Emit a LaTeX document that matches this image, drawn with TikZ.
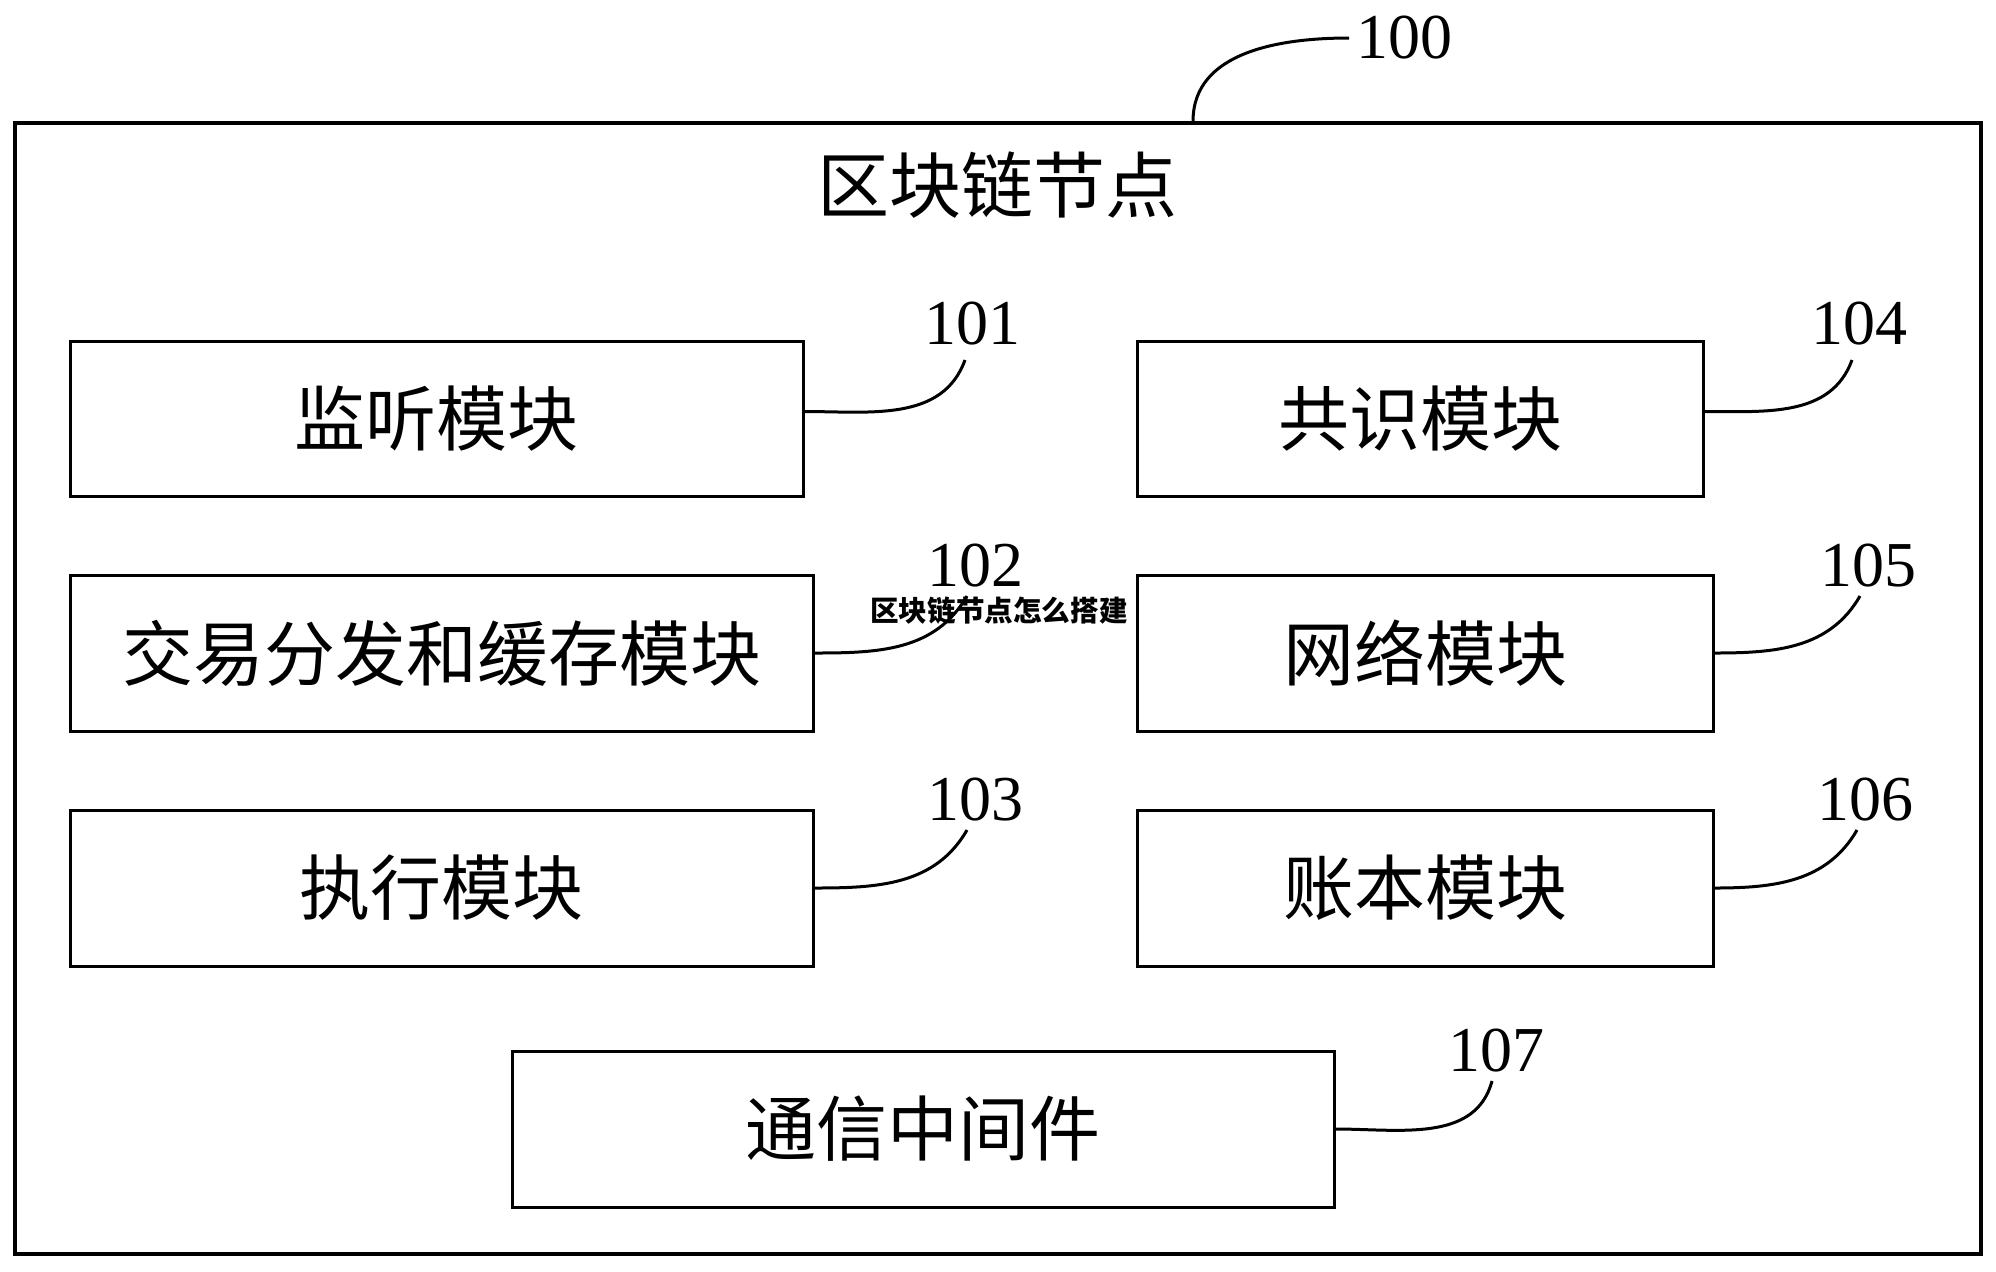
\documentclass[tikz,border=0pt]{standalone}
\usepackage{fontspec}
\setmainfont{Liberation Serif}
\newfontfamily\cjk{Noto Sans CJK SC}
\begin{document}
\begin{tikzpicture}[x=0.5pt,y=-0.5pt,
  box/.style={draw,line width=1.5pt,inner sep=0,font=\cjk\fontsize{35.5}{40}\selectfont},
  num/.style={font=\fontsize{32}{36}\selectfont,inner sep=0},
  lead/.style={line width=1.5pt}]
\useasboundingbox (0,0) rectangle (1996,1271);
\fill[white] (0,0) rectangle (1996,1271);
% outer block
\node[draw,line width=2pt,minimum width=983pt,minimum height=565.5pt,inner sep=0] (outer) at (998,688.5) {};
\node[font=\cjk\fontsize{36}{40}\selectfont] (title) at (997,185) {区块链节点};
% module boxes
\node[box,minimum width=366.5pt,minimum height=77.5pt] (b101) at (436.5,418.5) {监听模块};
\node[box,minimum width=283pt,minimum height=77.5pt] (b104) at (1420,418.5) {共识模块};
\node[box,minimum width=371.5pt,minimum height=78pt] (b102) at (441.5,653) {交易分发和缓存模块};
\node[box,minimum width=288pt,minimum height=78pt] (b105) at (1425,653) {网络模块};
\node[box,minimum width=371.5pt,minimum height=78pt] (b103) at (441.5,888) {执行模块};
\node[box,minimum width=288pt,minimum height=78pt] (b106) at (1425,888) {账本模块};
\node[box,minimum width=411pt,minimum height=78pt] (b107) at (923,1129) {通信中间件};
% reference numerals
\node[num,anchor=west] (l100) at (1356,38) {100};
\node[num,anchor=south] (l101) at (972,346) {101};
\node[num,anchor=south] (l104) at (1859,346) {104};
\node[num,anchor=south] (l102) at (975,588) {102};
\node[num,anchor=south] (l105) at (1868,588) {105};
\node[num,anchor=south] (l103) at (975,822) {103};
\node[num,anchor=south] (l106) at (1865,822) {106};
\node[num,anchor=south] (l107) at (1496,1073) {107};
% leader lines
\path (outer.north west) -- (outer.north east) coordinate[pos=0.599] (c100);
\draw[lead] (c100) to[out=90,in=180] ([xshift=-3.5pt]l100.west);
\draw[lead] ([yshift=3.5pt]b101.east) to[out=0,in=-110] ([xshift=-3.5pt,yshift=-7pt]l101.south);
\draw[lead] ([yshift=3.5pt]b104.east) to[out=0,in=-110] ([xshift=-3.5pt,yshift=-7pt]l104.south);
\draw[lead] (b102.east) to[out=0,in=-120] ([xshift=-4pt,yshift=-4pt]l102.south);
\draw[lead] (b105.east) to[out=0,in=-120] ([xshift=-4pt,yshift=-4pt]l105.south);
\draw[lead] (b103.east) to[out=0,in=-120] ([xshift=-4pt,yshift=-4pt]l103.south);
\draw[lead] (b106.east) to[out=0,in=-120] ([xshift=-4pt,yshift=-4pt]l106.south);
\draw[lead] (b107.east) to[out=0,in=-105] ([xshift=-2pt,yshift=-4pt]l107.south);
% overlay caption
\node[font=\cjk\bfseries\fontsize{14.3}{16}\selectfont,inner sep=0] (wm) at (999,611) {区块链节点怎么搭建};
\end{tikzpicture}
\end{document}
